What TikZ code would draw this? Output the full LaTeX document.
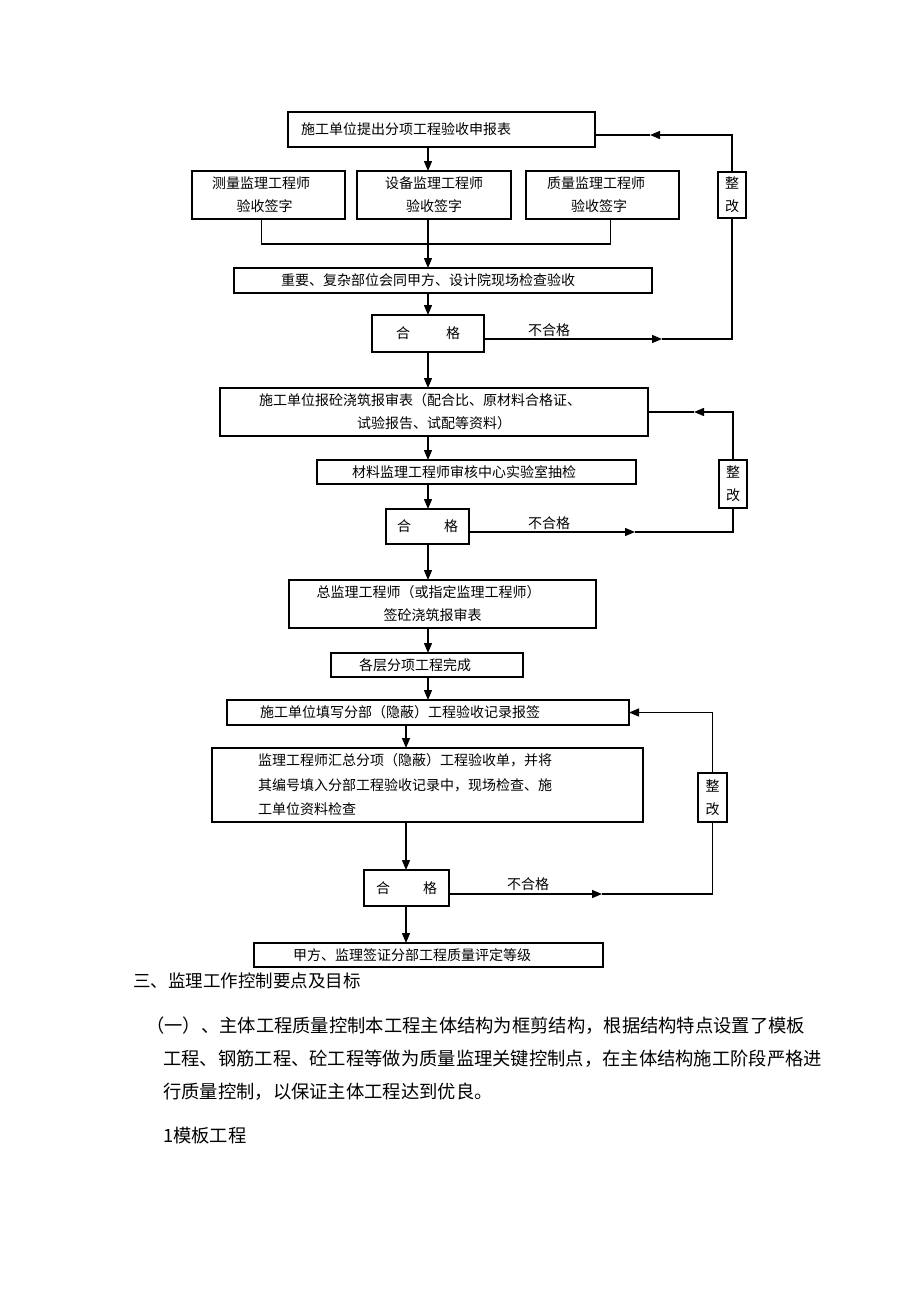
\documentclass[tikz,border=0pt]{standalone}
\usepackage{fontspec}
\setmainfont{Noto Sans CJK SC}
\usetikzlibrary{arrows.meta}
\newcommand\rpad[1]{\hspace*{#1pt}}

\begin{document}
\begin{tikzpicture}[x=1pt,y=-1pt,
		box/.style={draw,line width=1.3pt,anchor=north west,inner sep=0pt,outer sep=0pt,align=center,font=\fontsize{14}{23}\selectfont},
		line/.style={line width=1.3pt},
		flow/.style={line width=1.3pt,-{Triangle[length=10pt,width=8pt]}},
		tag/.style={font=\fontsize{14}{17}\selectfont,inner sep=0pt},
		body/.style={anchor=west,inner sep=0pt,font=\fontsize{18.3}{22}\selectfont}]
			\useasboundingbox[fill=white] (0,0) rectangle (920,1303);
			
			\begin{scope}
				\node[box,minimum width=307pt,minimum height=35pt,text width=281pt,inner xsep=13pt,align=left] (b1) at (288,112) {施工单位提出分项工程验收申报表};
				\node[box,minimum width=153pt,minimum height=48pt] (b2a) at (192,171) {测量监理工程师\rpad{15}\\验收签字\rpad{8}};
				\node[box,minimum width=154pt,minimum height=48pt] (b2b) at (357,171) {设备监理工程师\\验收签字};
				\node[box,minimum width=153pt,minimum height=48pt] (b2c) at (526,171) {质量监理工程师\rpad{13}\\验收签字\rpad{7}};
				\node[box,minimum width=28pt,minimum height=46pt] (r1) at (718,172) {整\\改};
				\node[box,minimum width=418pt,minimum height=25pt] (b3) at (234,268) {重要、复杂部位会同甲方、设计院现场检查验收\rpad{30}};
				\node[box,minimum width=112pt,minimum height=37pt] (g1) at (372,315) {合\hspace{36pt}格};
				\node[box,minimum width=428pt,minimum height=48pt] (b5) at (220,388) {施工单位报砼浇筑报审表（配合比、原材料合格证、\rpad{28}\\试验报告、试配等资料）};
				\node[box,minimum width=319pt,minimum height=24pt] (b6) at (317,460) {材料监理工程师审核中心实验室抽检\rpad{25}};
				\node[box,minimum width=28pt,minimum height=48pt] (r2) at (719,460) {整\\改};
				\node[box,minimum width=83pt,minimum height=35pt] (g2) at (386,509) {合\hspace{33pt}格};
				\node[box,minimum width=307pt,minimum height=48pt] (b8) at (289,580) {总监理工程师（或指定监理工程师）\rpad{28}\\签砼浇筑报审表\rpad{20}};
				\node[box,minimum width=192pt,minimum height=24pt] (b9) at (331,653) {各层分项工程完成\rpad{24}};
				\node[box,minimum width=402pt,minimum height=25pt,text width=336pt,inner xsep=33pt,align=left] (b10) at (227,700) {施工单位填写分部（隐蔽）工程验收记录报签};
				\node[box,minimum width=431pt,minimum height=74pt,text width=339pt,inner xsep=46pt,align=left,font=\fontsize{14}{24.5}\selectfont] (b11) at (212,748) {监理工程师汇总分项（隐蔽）工程验收单，并将\\其编号填入分部工程验收记录中，现场检查、施\\工单位资料检查};
				\node[box,minimum width=29pt,minimum height=49pt] (r3) at (698,773) {整\\改};
				\node[box,minimum width=85pt,minimum height=36pt] (g3) at (364,870) {合\hspace{33pt}格};
				\node[box,minimum width=349pt,minimum height=24pt] (b13) at (254,943) {甲方、监理签证分部工程质量评定等级\rpad{33}};
			\end{scope}
			
			\begin{scope}
				\coordinate (ax) at (428,0);
				\coordinate (bx) at (406,0);
				\coordinate (j1) at (428,244);
				\draw[flow] (b1.south -| ax) -- (b2b.north -| ax);
				\draw[line] ([xshift=-7pt]b2a.south) |- (j1) -| ([xshift=8pt]b2c.south);
				\draw[flow] (b2b.south -| ax) -- (b3.north -| ax);
				\draw[flow] (b3.south -| ax) -- (g1.north -| ax);
				\draw[flow] (g1.south -| ax) -- (b5.north -| ax);
				\draw[flow] (b5.south -| ax) -- (b6.north -| ax);
				\draw[flow] (b6.south -| ax) -- (g2.north -| ax);
				\draw[flow] (g2.south -| ax) -- (b8.north -| ax);
				\draw[flow] (b8.south -| ax) -- (b9.north -| ax);
				\draw[flow] (b9.south -| ax) -- (b10.north -| ax);
				\draw[flow] (b10.south -| bx) -- (b11.north -| bx);
				\draw[flow] (b11.south -| bx) -- (g3.north -| bx);
				\draw[flow] (g3.south -| bx) -- (b13.north -| bx);
			\end{scope}
			
			\begin{scope}
				\coordinate (f1) at (662,339);
				\coordinate (k1) at (650,135);
				\draw[flow] (g1.east |- f1) -- (f1);
				\draw[line] (f1) -| (r1.south);
				\draw[flow] (r1.north) |- (k1);
				\draw[line] (k1) -- (b1.east |- k1);
				\node[tag] (n1) at (549,330) {不合格};
				
				\coordinate (f2) at (635,532);
				\coordinate (k2) at (694,412);
				\draw[flow] (g2.east |- f2) -- (f2);
				\draw[line] (f2) -| (r2.south);
				\draw[flow] (r2.north) |- (k2);
				\draw[line] (k2) -- (b5.east);
				\node[tag] (n2) at (549,523) {不合格};
				
				\coordinate (f3) at (602,894);
				\draw[flow] (g3.east |- f3) -- (f3);
				\draw[line] (f3) -| (r3.south);
				\draw[flow] (r3.north) |- (b10.east);
				\node[tag] (n3) at (528,884) {不合格};
			\end{scope}
			
			\begin{scope}
				\node[body,font=\fontsize{17.5}{22}\selectfont] (h1) at (133,981) {三、监理工作控制要点及目标};
				\node[body] (p1) at (146,1026) {（一）、主体工程质量控制本工程主体结构为框剪结构，根据结构特点设置了模板};
				\node[body] (p2) at (163,1059) {工程、钢筋工程、砼工程等做为质量监理关键控制点，在主体结构施工阶段严格进};
				\node[body] (p3) at (163,1092) {行质量控制，以保证主体工程达到优良。};
				\node[body] (p4) at (163,1136) {1模板工程};
			\end{scope}
		\end{tikzpicture}
\end{document}
